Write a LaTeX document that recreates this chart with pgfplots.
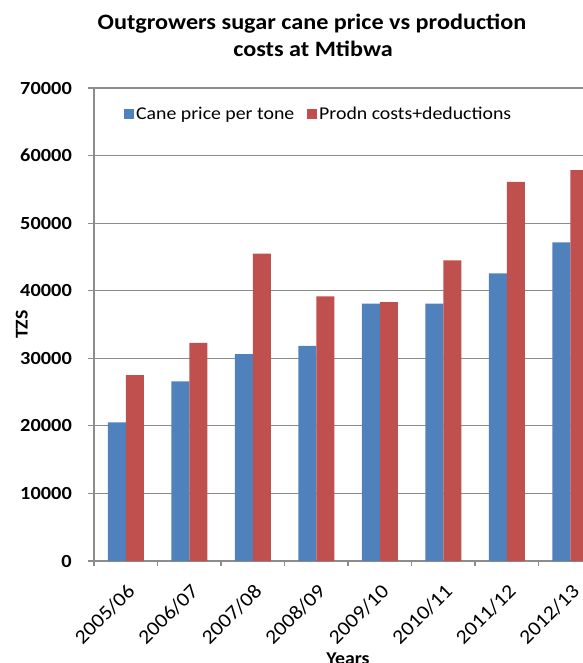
\documentclass[border=0pt]{standalone}
\usepackage{pgfplots}
\pgfplotsset{compat=1.18}
\usepackage{fontspec}
\setmainfont{Carlito}[FakeStretch=1.1]
\definecolor{cblue}{HTML}{4F81BD}
\definecolor{cred}{HTML}{C0504D}
\definecolor{gridc}{HTML}{8C8C8C}
\begin{document}
\begin{tikzpicture}[x=1bp,y=1bp]
\useasboundingbox (0,0) rectangle (583,-663);
\clip (0,0) rectangle (583,-663);
\begin{axis}[
  at={(94bp,-561bp)}, anchor=south west,
  width=508bp, height=473bp, scale only axis,
  xmin=-0.5, xmax=7.5, ymin=0, ymax=70000,
  ybar=0pt, bar width=18bp,
  axis x line*=bottom, axis y line*=left,
  axis line style={-, draw=gridc, line width=1.2bp},
  ytick={0,10000,...,70000},
  ymajorgrids, grid style={draw=gridc, line width=1.2bp},
  scaled y ticks=false,
  /pgf/number format/1000 sep={},
  /pgf/number format/assume math mode=true,
  yticklabel style={font=\bfseries\fontsize{18.5bp}{20bp}\selectfont, anchor=east, inner sep=0pt, xshift=-16bp},
  xtick={0,...,7},
  xticklabels={2005/06,2006/07,2007/08,2008/09,2009/10,2010/11,2011/12,2012/13},
  xticklabel style={font=\fontsize{20bp}{22bp}\selectfont, rotate=45, anchor=north east, inner sep=0pt, xshift=-10.5bp, yshift=-11bp},
  minor xtick={-0.5,0.5,...,7.5},
  x tick style={draw=none},
  minor x tick style={draw=gridc, line width=1.2bp},
  y tick style={draw=gridc, line width=1.2bp},
  tick align=outside,
  major tick length=6bp, minor tick length=5bp,
  ylabel={TZS},
  ylabel style={font=\bfseries\fontsize{18bp}{20bp}\selectfont, at={(axis description cs:-0.142,0.5)}, anchor=center, rotate=0},
  xlabel={Years},
  xlabel style={font=\bfseries\fontsize{18bp}{20bp}\selectfont, at={(axis description cs:0.5,-0.206)}, anchor=center},
  legend style={at={(axis description cs:0.059,0.944)}, anchor=west, draw=none, fill=none, inner sep=0pt,
    legend columns=2, font=\fontsize{18bp}{20bp}\selectfont,
    /tikz/every even column/.style={column sep=11bp}},
  legend image code/.code={\fill[#1] (0bp,-5bp) rectangle (10bp,5bp);},
]
\addplot[fill=cblue, draw=none] coordinates {(0,20500) (1,26600) (2,30600) (3,31850) (4,38100) (5,38100) (6,42550) (7,47150)};
\addplot[fill=cred, draw=none] coordinates {(0,27500) (1,32300) (2,45500) (3,39150) (4,38300) (5,44500) (6,56100) (7,57850)};
\legend{Cane price per tone, Prodn costs+deductions}
\end{axis}
\node[anchor=base, font=\bfseries\fontsize{22bp}{24bp}\selectfont] at (312,-30) {Outgrowers sugar cane price vs production};
\node[anchor=base, font=\bfseries\fontsize{22bp}{24bp}\selectfont] at (313,-57) {costs at Mtibwa};
\end{tikzpicture}
\end{document}
